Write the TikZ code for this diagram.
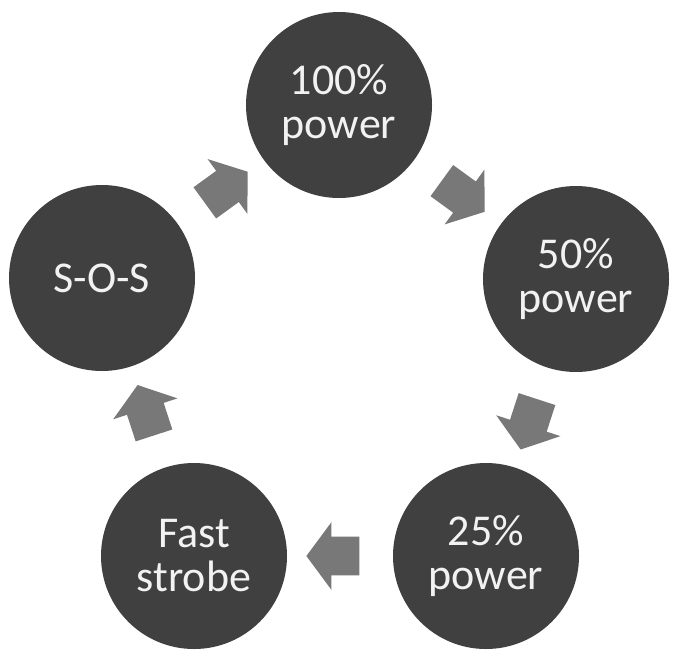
\documentclass[tikz,border=0pt]{standalone}
\usepackage{fontspec}
\setmainfont{Carlito}
\usetikzlibrary{shapes.arrows,calc}
\definecolor{modefill}{RGB}{64,64,64}
\definecolor{arrowfill}{RGB}{120,120,120}
\definecolor{modetext}{RGB}{242,242,242}
\begin{document}
\begin{tikzpicture}[x=0.75pt,y=0.75pt,yscale=-1,xscale=1,
  modecircle/.style={circle,fill=modefill,text=modetext,minimum size=139.5pt,inner sep=0pt,align=center,font=\fontsize{33}{33}\selectfont},
  cyclearrow/.style={single arrow,fill=arrowfill,draw=none,inner xsep=0pt,inner ysep=14.25pt,minimum height=39.75pt,single arrow head extend=10.9pt,single arrow tip angle=107}]
\useasboundingbox (0,0) rectangle (673,654);

%Shape: Circle [100% power]
\node [modecircle] (p100) at (339,105) {100\%\\power};
%Shape: Circle [50% power]
\node [modecircle] (p50) at (576,279) {50\%\\power};
%Shape: Circle [25% power]
\node [modecircle] (p25) at (486,556) {25\%\\power};
%Shape: Circle [fast strobe]
\node [modecircle] (strobe) at (194,556) {Fast\\strobe};
%Shape: Circle [sos]
\node [modecircle] (sos) at (102,278) {S-O-S};

%Shape: Right Arrow
\node [cyclearrow,rotate=-36] (a1) at ($(p100)!0.5!(p50)$) {};
%Shape: Right Arrow
\node [cyclearrow,rotate=-108] (a2) at ($(p50)!0.5!(p25)$) {};
%Shape: Right Arrow
\node [cyclearrow,rotate=180] (a3) at ($(p25)!0.5!(strobe)$) {};
%Shape: Right Arrow
\node [cyclearrow,rotate=108] (a4) at ($(strobe)!0.5!(sos)$) {};
%Shape: Right Arrow
\node [cyclearrow,rotate=36] (a5) at ($(sos)!0.5!(p100)$) {};

\end{tikzpicture}
\end{document}
